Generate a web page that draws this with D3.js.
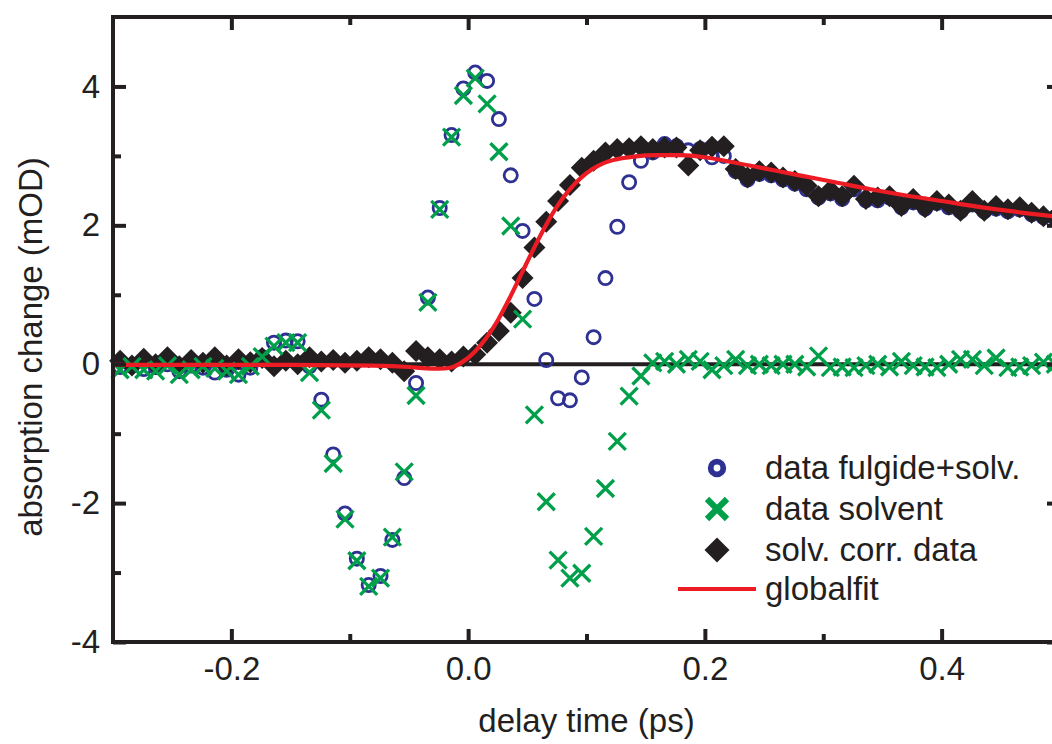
<!DOCTYPE html>
<html>

<head>
    <meta charset="utf-8">
    <style>
        body { margin: 0; background: #fff; }
        text { font-family: "Liberation Sans", Arial, Helvetica, sans-serif; fill: #231f20; }
        .tick text { font-size: 33px; }
        .domain { display: none; }
    </style>
    <script src="https://cdnjs.cloudflare.com/ajax/libs/d3/7.8.5/d3.min.js"></script>
    <title>absorption change</title>
</head>

<body>
    <div id="chart"></div>

    <script>

        // delay times (ps), shared by the three measured series
        var times = [-0.294, -0.284, -0.274, -0.264, -0.254, -0.244, -0.234, -0.224, -0.214, -0.204,
            -0.194, -0.184, -0.174, -0.164, -0.154, -0.144, -0.134, -0.124, -0.114, -0.104,
            -0.094, -0.084, -0.074, -0.064, -0.054, -0.044, -0.034, -0.024, -0.014, -0.004,
            0.006, 0.016, 0.026, 0.036, 0.046, 0.056, 0.066, 0.076, 0.086, 0.096,
            0.106, 0.116, 0.126, 0.136, 0.146, 0.156, 0.166, 0.176, 0.186, 0.196,
            0.206, 0.216, 0.226, 0.236, 0.246, 0.256, 0.266, 0.276, 0.286, 0.296,
            0.306, 0.316, 0.326, 0.336, 0.346, 0.356, 0.366, 0.376, 0.386, 0.396,
            0.406, 0.416, 0.426, 0.436, 0.446, 0.456, 0.466, 0.476, 0.486, 0.496];

        // data fulgide+solv. (mOD)
        var fulgide = [-0.04, -0.02, -0.07, -0.04, 0.00, -0.10, -0.02, -0.05, -0.12, -0.08,
            -0.15, -0.05, 0.10, 0.31, 0.34, 0.33, -0.03, -0.51, -1.30, -2.15,
            -2.80, -3.18, -3.05, -2.53, -1.64, -0.27, 0.96, 2.25, 3.30, 3.97,
            4.20, 4.08, 3.53, 2.72, 1.92, 0.94, 0.06, -0.49, -0.52, -0.19,
            0.39, 1.24, 1.98, 2.62, 2.93, 3.05, 3.17, 3.14, 3.08, 3.10,
            2.98, 3.00, 2.78, 2.66, 2.74, 2.72, 2.66, 2.60, 2.52, 2.40,
            2.46, 2.38, 2.52, 2.36, 2.36, 2.40, 2.26, 2.33, 2.24, 2.32,
            2.26, 2.20, 2.30, 2.20, 2.24, 2.20, 2.23, 2.16, 2.12, 2.10];

        // data solvent (mOD)
        var solvent = [-0.08, -0.03, -0.08, -0.10, -0.02, -0.15, -0.08, -0.03, -0.06, -0.10,
            -0.15, -0.03, 0.11, 0.26, 0.31, 0.31, -0.12, -0.66, -1.43, -2.23,
            -2.83, -3.20, -3.08, -2.49, -1.55, -0.45, 0.89, 2.23, 3.27, 3.87,
            4.12, 3.75, 3.06, 1.99, 0.65, -0.73, -1.98, -2.82, -3.08, -3.01,
            -2.48, -1.79, -1.11, -0.46, -0.17, 0.02, 0.04, 0.00, 0.07, 0.04,
            -0.08, -0.02, 0.07, -0.02, 0.00, -0.02, 0.00, 0.00, -0.04, 0.12,
            -0.05, -0.04, -0.05, -0.02, 0.00, -0.04, 0.04, -0.02, -0.04, -0.05,
            0.00, 0.07, 0.07, -0.02, 0.09, -0.05, -0.04, -0.02, 0.03, 0.00];

        // solv. corr. data (mOD)
        var corrected = [0.05, -0.02, 0.08, 0.00, 0.10, -0.03, 0.06, 0.02, 0.10, -0.02,
            0.07, 0.03, 0.09, -0.03, 0.05, 0.00, 0.10, 0.04, 0.06, 0.02,
            0.05, 0.10, 0.07, 0.02, -0.10, 0.19, 0.10, 0.07, 0.04, 0.11,
            0.14, 0.31, 0.48, 0.74, 1.24, 1.68, 2.05, 2.35, 2.58, 2.83,
            2.93, 3.05, 3.10, 3.11, 3.14, 3.10, 3.12, 3.12, 2.86, 3.08,
            3.13, 3.14, 2.81, 2.69, 2.78, 2.76, 2.69, 2.64, 2.57, 2.42,
            2.50, 2.42, 2.57, 2.38, 2.40, 2.42, 2.28, 2.38, 2.26, 2.35,
            2.30, 2.21, 2.35, 2.21, 2.28, 2.23, 2.26, 2.18, 2.13, 2.12];

        // globalfit curve
        var fitTimes = [-0.30, -0.15, -0.08, -0.05, -0.035, -0.025, -0.015, -0.005, 0.005, 0.015,
            0.025, 0.035, 0.045, 0.055, 0.065, 0.075, 0.085, 0.095, 0.105, 0.115,
            0.125, 0.14, 0.16, 0.18, 0.20, 0.22, 0.25, 0.28, 0.31, 0.34,
            0.37, 0.40, 0.43, 0.46, 0.50];
        var fitValues = [-0.01, -0.01, -0.02, -0.04, -0.06, -0.065, -0.05, 0.03, 0.17, 0.37,
            0.63, 0.95, 1.30, 1.65, 1.98, 2.27, 2.50, 2.68, 2.81, 2.90,
            2.95, 2.99, 3.01, 3.01, 2.98, 2.92, 2.82, 2.72, 2.62, 2.52,
            2.43, 2.35, 2.27, 2.20, 2.12];

        // ticks
        var xMajorTicks = [-0.2, 0.0, 0.2, 0.4];
        var xMinorTicks = [-0.1, 0.1, 0.3];
        var yMajorTicks = [-4, -2, 0, 2, 4];
        var yMinorTicks = [-3, -1, 1, 3];

        var legendLabels = ["data fulgide+solv.", "data solvent", "solv. corr. data", "globalfit"];

        var blue = "#2e3192", green = "#00a04b", ink = "#231f20", red = "#ed1c24";

        // set the dimensions and margins of the graph
        var margin = { top: 17, left: 113 },
            width = 947,
            height = 625;

        var svg = d3.select("#chart")
            .append("svg")
            .attr("width", 1052)
            .attr("height", 744);

        var g = svg.append("g")
            .attr("transform", "translate(" + margin.left + "," + margin.top + ")");

        var x = d3.scaleLinear().domain([-0.3, 0.5]).range([0, width]);
        var y = d3.scaleLinear().domain([-4, 5]).range([height, 0]);

        // zero line
        g.append("line")
            .attr("x1", 0).attr("x2", width)
            .attr("y1", y(0)).attr("y2", y(0))
            .attr("stroke", ink).attr("stroke-width", 4);

        var pts = function (vals) {
            return times.map(function (t, i) { return { t: t, v: vals[i] }; });
        };

        // circles: fulgide+solv.
        g.append("g").selectAll("circle")
            .data(pts(fulgide))
            .enter().append("circle")
            .attr("cx", function (d) { return x(d.t); })
            .attr("cy", function (d) { return y(d.v); })
            .attr("r", 6.6)
            .attr("fill", "none")
            .attr("stroke", blue)
            .attr("stroke-width", 2.8);

        // diamonds: solv. corr. data
        g.append("g").selectAll("path")
            .data(pts(corrected))
            .enter().append("path")
            .attr("transform", function (d) { return "translate(" + x(d.t) + "," + y(d.v) + ")"; })
            .attr("d", "M0,-11L11,0L0,11L-11,0Z")
            .attr("fill", ink);

        // crosses: solvent
        g.append("g").selectAll("path")
            .data(pts(solvent))
            .enter().append("path")
            .attr("transform", function (d) { return "translate(" + x(d.t) + "," + y(d.v) + ")"; })
            .attr("d", "M-8.5,-8.5L8.5,8.5M-8.5,8.5L8.5,-8.5")
            .attr("stroke", green)
            .attr("stroke-width", 3.3)
            .attr("fill", "none");

        // global fit
        var line = d3.line()
            .x(function (d, i) { return x(fitTimes[i]); })
            .y(function (d) { return y(d); })
            .curve(d3.curveMonotoneX);
        g.append("path")
            .datum(fitValues)
            .attr("d", line)
            .attr("fill", "none")
            .attr("stroke", red)
            .attr("stroke-width", 4.2);

        // frame
        g.append("rect")
            .attr("width", width).attr("height", height)
            .attr("fill", "none")
            .attr("stroke", ink).attr("stroke-width", 4);

        // axes, ticks pointing inward
        function styleTicks(sel) {
            sel.selectAll(".tick line").attr("stroke", ink).attr("stroke-width", 4);
        }

        g.append("g")
            .attr("transform", "translate(0," + height + ")")
            .call(d3.axisBottom(x).tickValues(xMajorTicks).tickSize(-13).tickPadding(15)
                .tickFormat(function (d) { return d.toFixed(1); }))
            .call(styleTicks);
        g.append("g")
            .attr("transform", "translate(0," + height + ")")
            .call(d3.axisBottom(x).tickValues(xMinorTicks).tickSize(-8).tickFormat(""))
            .call(styleTicks);
        g.append("g")
            .call(d3.axisTop(x).tickValues(xMajorTicks).tickSize(-13).tickFormat(""))
            .call(styleTicks);
        g.append("g")
            .call(d3.axisTop(x).tickValues(xMinorTicks).tickSize(-8).tickFormat(""))
            .call(styleTicks);

        g.append("g")
            .call(d3.axisLeft(y).tickValues(yMajorTicks).tickSize(-13).tickPadding(13)
                .tickFormat(function (d) { return String(d); }))
            .call(styleTicks);
        g.append("g")
            .call(d3.axisLeft(y).tickValues(yMinorTicks).tickSize(-8).tickFormat(""))
            .call(styleTicks);
        g.append("g")
            .attr("transform", "translate(" + width + ",0)")
            .call(d3.axisRight(y).tickValues(yMajorTicks).tickSize(-13).tickFormat(""))
            .call(styleTicks);
        g.append("g")
            .attr("transform", "translate(" + width + ",0)")
            .call(d3.axisRight(y).tickValues(yMinorTicks).tickSize(-8).tickFormat(""))
            .call(styleTicks);

        g.selectAll(".tick text").attr("fill", ink);

        // axis titles
        svg.append("text")
            .attr("x", margin.left + width / 2)
            .attr("y", 732)
            .attr("text-anchor", "middle")
            .style("font-size", "33px")
            .text("delay time (ps)");

        svg.append("text")
            .attr("transform", "translate(42,347) rotate(-90)")
            .attr("text-anchor", "middle")
            .style("font-size", "33px")
            .text("absorption change (mOD)");

        // handmade legend
        var legend = svg.append("g");
        var ly = [468, 509, 550, 589];
        legend.append("circle").attr("cx", 717).attr("cy", ly[0]).attr("r", 6.3)
            .attr("fill", "none").attr("stroke", blue).attr("stroke-width", 5.8);
        legend.append("path").attr("transform", "translate(717," + ly[1] + ")")
            .attr("d", "M-10,-10L10,10M-10,10L10,-10")
            .attr("stroke", green).attr("stroke-width", 6.2).attr("fill", "none");
        legend.append("path").attr("transform", "translate(717," + ly[2] + ")")
            .attr("d", "M0,-12.5L12.5,0L0,12.5L-12.5,0Z").attr("fill", ink);
        legend.append("line").attr("x1", 678).attr("x2", 756).attr("y1", ly[3]).attr("y2", ly[3])
            .attr("stroke", red).attr("stroke-width", 4);

        legend.selectAll("text.lab")
            .data(legendLabels)
            .enter().append("text")
            .attr("class", "lab")
            .attr("x", 765)
            .attr("y", function (d, i) { return ly[i] + 11; })
            .style("font-size", "33px")
            .text(function (d) { return d; });

    </script>

</body>

</html>
